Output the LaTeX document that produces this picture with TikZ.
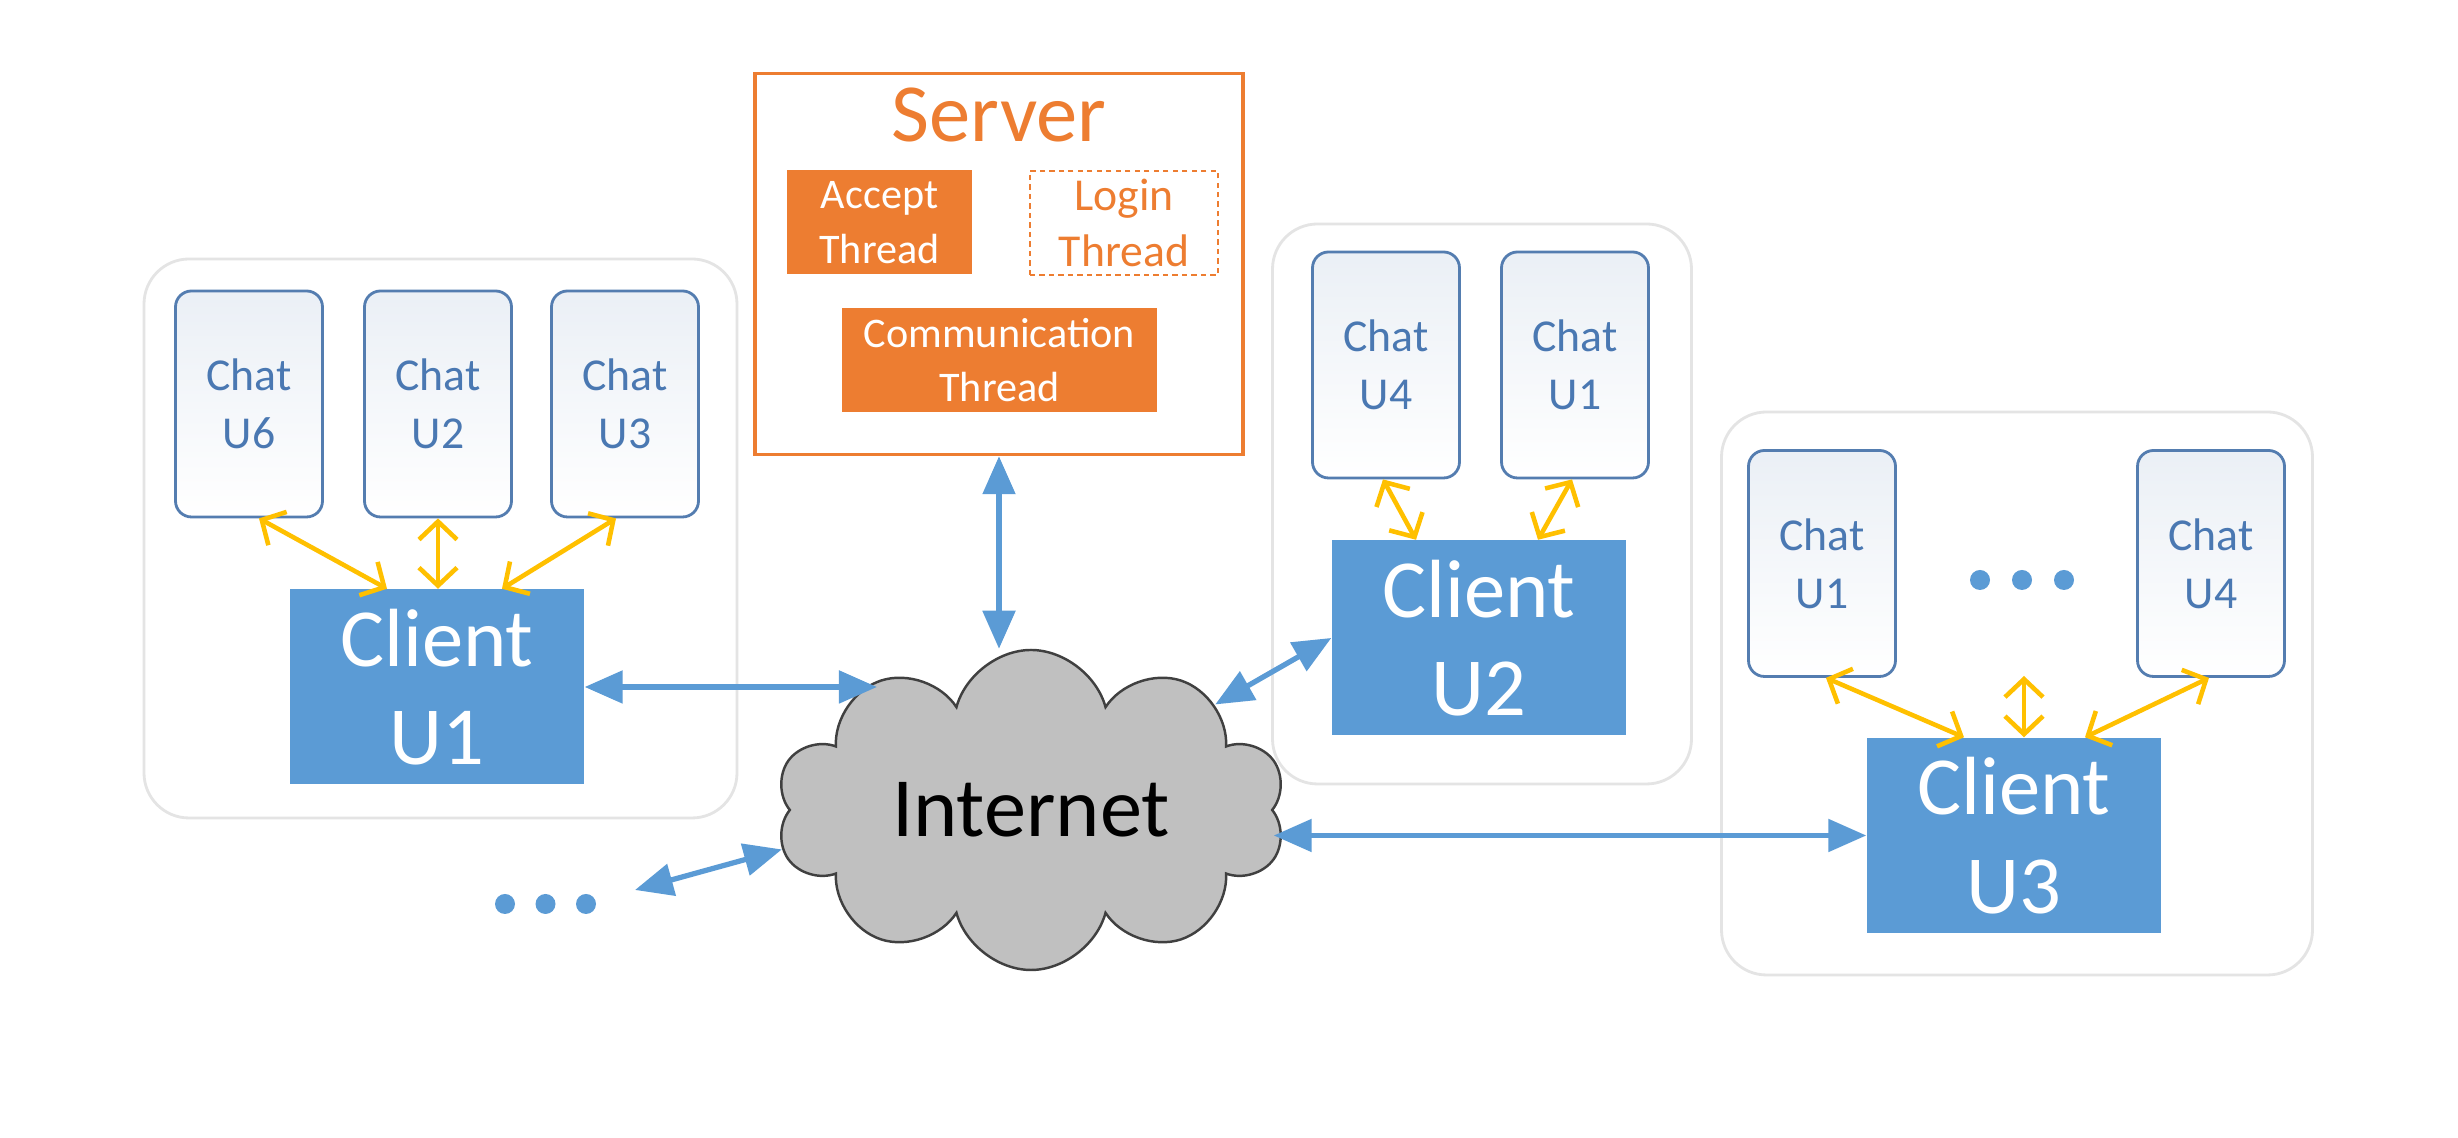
\documentclass[tikz,border=0pt]{standalone}
\usepackage{fontspec}
\setmainfont{Carlito}
\usetikzlibrary{arrows.meta,shapes.symbols}
\definecolor{cblue}{RGB}{91,155,213}
\definecolor{corange}{RGB}{237,125,49}
\definecolor{cgold}{RGB}{255,192,0}
\definecolor{ctext}{RGB}{74,120,178}
\definecolor{cedge}{RGB}{84,125,176}
\definecolor{cgroup}{RGB}{228,228,228}
\definecolor{ccloud}{RGB}{192,192,192}

\begin{document}
\begin{tikzpicture}
[%%%%%%%%%%%%%%%%%%%%%%%%%%%%%%
group/.style={rectangle,rounded corners=0.45cm,draw=cgroup,line width=0.8pt,fill=white},
chat/.style={rectangle,rounded corners=0.16cm,draw=cedge,line width=0.8pt,top color=cedge!12,bottom color=white,text=ctext,align=center,minimum width=1.47cm,minimum height=2.26cm,font=\fontsize{13pt}{16.5pt}\selectfont,inner sep=0pt},
client/.style={rectangle,fill=cblue,text=white,align=center,minimum width=2.94cm,minimum height=1.95cm,font=\fontsize{23.5pt}{28pt}\selectfont,inner sep=0pt},
thread/.style={rectangle,fill=corange,text=white,align=center,minimum height=1.04cm,font=\fontsize{12pt}{15.5pt}\selectfont,inner sep=0pt},
barrow/.style={{Triangle[length=0.38cm,width=0.32cm]}-{Triangle[length=0.38cm,width=0.32cm]},cblue,line width=1.5pt},
yarrow/.style={{Straight Barb[length=0.18cm,width=0.38cm]}-{Straight Barb[length=0.18cm,width=0.38cm]},cgold,line width=1.3pt},
dot/.style={circle,fill=cblue,minimum size=0.2cm,inner sep=0pt},
]%%%%%%%%%%%%%%%%%%%%%%%%%%%%%%

\useasboundingbox (0,0) rectangle (24.58,11.38);

% the three user groups
\node[group,minimum width=5.93cm,minimum height=5.59cm] (g1) at (4.405,5.995){};
\node[group,minimum width=4.19cm,minimum height=5.60cm] (g2) at (14.82,6.34){};
\node[group,minimum width=5.91cm,minimum height=5.63cm] (g3) at (20.17,4.445){};

% server
\node[rectangle,draw=corange,line width=1pt,minimum width=4.88cm,minimum height=3.81cm] (srv) at (9.99,8.74){};
\node[text=corange,font=\fontsize{23.5pt}{28pt}\selectfont] (srvlbl) at (9.99,10.23){Server};
\node[thread,minimum width=1.85cm] (acc) at (8.795,9.155){Accept\\Thread};
\node[thread,fill=none,draw=corange,line width=0.8pt,dash pattern=on 1.5pt off 1.2pt,text=corange,minimum width=1.88cm,font=\fontsize{13pt}{16pt}\selectfont] (login) at (11.24,9.15){Login\\Thread};
\node[thread,minimum width=3.15cm] (comm) at (9.995,7.78){Communication\\Thread};

% chats
\foreach \n/\x in {6/2.49,2/4.38,3/6.25}
\node[chat] (ca\n) at (\x,7.34){Chat\\U\n};
\foreach \n/\x in {4/13.86,1/15.75}
\node[chat] (cb\n) at (\x,7.73){Chat\\U\n};
\foreach \n/\x in {1/18.22,4/22.11}
\node[chat] (cc\n) at (\x,5.745){Chat\\U\n};

% clients
\node[client] (cU1) at (4.37,4.51){Client\\U1};
\node[client] (cU2) at (14.79,5.00){Client\\U2};
\node[client] (cU3) at (20.14,3.025){Client\\U3};

% internet
\node[cloud,cloud puffs=10,cloud ignores aspect,minimum width=5.1cm,minimum height=3.2cm,fill=ccloud,draw=black!75,line width=0.7pt,font=\fontsize{24pt}{28pt}\selectfont,inner sep=0pt] (inet) at (10.31,3.28){Internet};

% dots
\foreach \i/\x in {1/5.05,2/5.455,3/5.86}
\node[dot] (dl\i) at (\x,2.34){};
\foreach \i/\x in {1/19.80,2/20.22,3/20.64}
\node[dot] (dr\i) at (\x,5.58){};
\coordinate (dlend) at (6.35,2.48);
\coordinate (drtop) at (20.24,4.62);

% network links
\draw[barrow] (cU1.east) -- (cU1.east -| inet.140);
\draw[barrow] (srv.south) -- (srv.south |- inet.north);
\draw[barrow] (cU2.west) -- (inet);
\draw[barrow] (inet.east |- cU3.west) -- (cU3.west);
\draw[barrow] (dlend) -- (inet.189);

% chat links
\draw[yarrow] ([xshift=0.1cm]ca6.south) -- ([xshift=-0.5cm]cU1.north);
\draw[yarrow] (ca2.south) -- (ca2.south |- cU1.north);
\draw[yarrow] ([xshift=-0.09cm]ca3.south) -- ([xshift=0.65cm]cU1.north);
\draw[yarrow] ([xshift=-0.03cm]cb4.south) -- ([xshift=-0.63cm]cU2.north);
\draw[yarrow] ([xshift=-0.03cm]cb1.south) -- ([xshift=0.59cm]cU2.north);
\draw[yarrow] ([xshift=0.04cm]cc1.south) -- ([xshift=-0.5cm]cU3.north);
\draw[yarrow] (drtop) -- (drtop |- cU3.north);
\draw[yarrow] ([xshift=-0.02cm]cc4.south) -- ([xshift=0.71cm]cU3.north);
\end{tikzpicture}
\end{document}
